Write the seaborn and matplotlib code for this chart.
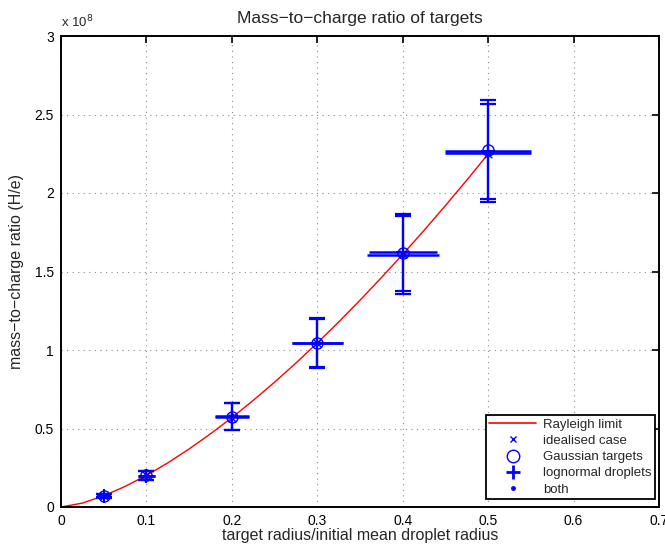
import numpy as np
import matplotlib
matplotlib.use("Agg")
import matplotlib.pyplot as plt
from matplotlib.lines import Line2D
from matplotlib.ticker import FuncFormatter
import seaborn as sns

# values in units of 1e8 H/e
radius = [0.05, 0.1, 0.2, 0.3, 0.4, 0.5]
ideal = [0.071, 0.201, 0.569, 1.045, 1.609, 2.249]
gauss = [0.072, 0.202, 0.574, 1.047, 1.621, 2.275]
gauss_err = [0.011, 0.03, 0.086, 0.157, 0.245, 0.315]
lognorm = [0.070, 0.200, 0.575, 1.045, 1.624, 2.27]
lognorm_xerr = [0.005, 0.01, 0.02, 0.03, 0.04, 0.05]
both = [0.070, 0.199, 0.578, 1.044, 1.605, 2.255]
both_err = [0.011, 0.03, 0.087, 0.156, 0.248, 0.315]
both_xerr = [0.005, 0.01, 0.02, 0.03, 0.042, 0.05]

# Rayleigh limit
ray_r = [0, 0.025, 0.05, 0.075, 0.1, 0.125, 0.15, 0.175, 0.2, 0.225, 0.25, 0.275,
         0.3, 0.325, 0.35, 0.375, 0.4, 0.425, 0.45, 0.475, 0.5]
ray_y = [0, 0.025, 0.071, 0.131, 0.201, 0.281, 0.370, 0.466, 0.569, 0.679, 0.795, 0.917,
         1.045, 1.178, 1.317, 1.461, 1.609, 1.762, 1.920, 2.082, 2.249]

sns.set_style("white")
plt.rcParams['font.family'] = ['Liberation Sans', 'DejaVu Sans']

blue = (0, 0, 1)
fig = plt.figure(figsize=(6.65, 5.44), dpi=100)
ax = fig.add_axes([61 / 665, 1 - 507 / 544, 598 / 665, 471 / 544])

sns.lineplot(x=ray_r, y=ray_y, color='red', lw=1, ax=ax, zorder=2)

ax.errorbar(radius, gauss, yerr=gauss_err, fmt='none', ecolor=blue, elinewidth=1.6,
            capsize=5.5, capthick=1.6, zorder=3)
ax.errorbar(radius, both, yerr=both_err, fmt='none', ecolor=blue, elinewidth=1.6,
            capsize=5.5, capthick=1.6, zorder=3)
ax.errorbar(radius, lognorm, xerr=lognorm_xerr, fmt='none', ecolor=blue, elinewidth=1.8,
            capsize=0, zorder=3)
ax.errorbar(radius, both, xerr=both_xerr, fmt='none', ecolor=blue, elinewidth=1.8,
            capsize=0, zorder=3)

sns.scatterplot(x=radius, y=ideal, marker='x', s=30, color=blue, linewidth=1, ax=ax, zorder=4)
ax.plot(radius, gauss, 'o', ms=8, mfc='none', mec=blue, mew=1, zorder=4)
ax.plot(radius, lognorm, '+', ms=10, mec=blue, mew=1.5, zorder=4)
ax.plot(radius, both, '.', ms=6, color=blue, zorder=4)

ax.set_xlim(0, 0.7)
ax.set_ylim(0, 3)
ax.set_xticks(np.arange(0, 0.71, 0.1))
ax.set_yticks(np.arange(0, 3.01, 0.5))
ax.xaxis.set_major_formatter(FuncFormatter(lambda v, p: '%g' % round(v, 2)))
ax.yaxis.set_major_formatter(FuncFormatter(lambda v, p: '%g' % round(v, 2)))
ax.grid(True, linestyle=(0, (1, 4)), color='0.55', lw=0.8)
ax.tick_params(direction='in', length=5, width=1.2, top=True, right=True,
               labelsize=10, pad=5, colors='black')
for s in ax.spines.values():
    s.set_color('black')
    s.set_linewidth(1.4)

ax.set_title('Mass\u2212to\u2212charge ratio of targets', fontsize=12.5, pad=9)
ax.set_xlabel('target radius/initial mean droplet radius', fontsize=11.5, labelpad=0)
ax.set_ylabel('mass\u2212to\u2212charge ratio (H/e)', fontsize=11.5, labelpad=8)
ax.text(0.0, 1.012, 'x 10$^8$', transform=ax.transAxes, fontsize=9.5, va='bottom', ha='left')

handles = [
    Line2D([], [], color='red', lw=1.2),
    Line2D([], [], ls='none', marker='x', color=blue, ms=5),
    Line2D([], [], ls='none', marker='o', mfc='none', mec=blue, ms=9),
    Line2D([], [], ls='none', marker='+', color=blue, ms=10, mew=2),
    Line2D([], [], ls='none', marker='.', color=blue, ms=5),
]
labels = ['Rayleigh limit', 'idealised case', 'Gaussian targets', 'lognormal droplets', 'both']
leg = ax.legend(handles, labels, loc='lower right', bbox_to_anchor=(0.993, 0.017),
                borderaxespad=0, fancybox=False, framealpha=1, edgecolor='black',
                fontsize=9.5, handlelength=3.6, labelspacing=0.3, borderpad=0.25,
                handletextpad=0.5)
leg.get_frame().set_linewidth(1.3)

fig.savefig('out.png', dpi=100)
